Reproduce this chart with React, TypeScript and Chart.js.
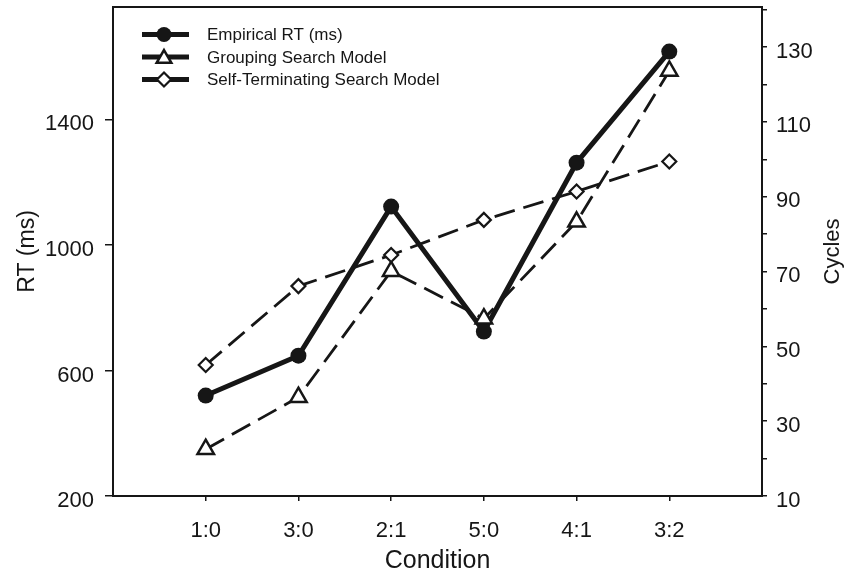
import React, { useEffect, useRef } from "react";
import { Chart, registerables } from "chart.js";

Chart.register(...registerables);

const categories = ["1:0", "3:0", "2:1", "5:0", "4:1", "3:2"];
const empiricalRT = [520, 647, 1122, 724, 1262, 1616];
const groupingCycles = [22.5, 36.4, 70.1, 57.4, 83.3, 123.6];
const selfTermCycles = [45, 66.1, 74.4, 83.8, 91.4, 99.4];
const rtTicks = [200, 600, 1000, 1400];
const cycleTicks = [10, 20, 30, 40, 50, 60, 70, 80, 90, 100, 110, 120, 130, 140];
const cycleLabels = [10, 30, 50, 70, 90, 110, 130];
const legendLabels = ["Empirical RT (ms)", "Grouping Search Model", "Self-Terminating Search Model"];

const FONT = "'Liberation Sans', Arial, Helvetica, sans-serif";
const INK = "#161616";

const toPoints = (vals: number[]) => vals.map((v, i) => ({ x: i, y: v }));

const framePlugin = {
  id: "frame",
  beforeDatasetsDraw(chart: any) {
    const { ctx, chartArea: a } = chart;
    ctx.save();
    ctx.strokeStyle = INK;
    ctx.lineWidth = 2;
    ctx.strokeRect(a.left, a.top, a.right - a.left, a.bottom - a.top);
    ctx.restore();
  },
};

function drawMarker(ctx: CanvasRenderingContext2D, kind: number, x: number, y: number) {
  ctx.save();
  ctx.strokeStyle = INK;
  ctx.fillStyle = kind === 0 ? INK : "#ffffff";
  ctx.beginPath();
  if (kind === 0) {
    ctx.arc(x, y, 7.5, 0, Math.PI * 2);
    ctx.fill();
  } else if (kind === 1) {
    const r = 8.5;
    for (let k = 0; k < 3; k++) {
      const ang = (k * 2 * Math.PI) / 3;
      const px = x + Math.sin(ang) * r;
      const py = y - Math.cos(ang) * r;
      if (k === 0) ctx.moveTo(px, py);
      else ctx.lineTo(px, py);
    }
    ctx.closePath();
    ctx.fill();
    ctx.lineWidth = 2.5;
    ctx.stroke();
  } else {
    const r = 7;
    ctx.moveTo(x, y - r);
    ctx.lineTo(x + r, y);
    ctx.lineTo(x, y + r);
    ctx.lineTo(x - r, y);
    ctx.closePath();
    ctx.fill();
    ctx.lineWidth = 2.2;
    ctx.stroke();
  }
  ctx.restore();
}

const legendPlugin = {
  id: "customLegend",
  afterDraw(chart: any) {
    const { ctx } = chart;
    const rows = [34.5, 57, 79.5];
    ctx.save();
    legendLabels.forEach((label, i) => {
      const y = rows[i];
      ctx.strokeStyle = INK;
      ctx.lineWidth = 5;
      ctx.lineCap = "butt";
      ctx.beginPath();
      ctx.moveTo(142, y);
      ctx.lineTo(189, y);
      ctx.stroke();
      drawMarker(ctx, i, 164, i === 1 ? y + 1.5 : y);
      ctx.fillStyle = INK;
      ctx.font = `17px ${FONT}`;
      ctx.textAlign = "left";
      ctx.textBaseline = "middle";
      ctx.fillText(label, 207, y + 1);
    });
    ctx.restore();
  },
};

const rightTitlePlugin = {
  id: "rightTitle",
  afterDraw(chart: any) {
    const { ctx, chartArea: a } = chart;
    ctx.save();
    ctx.translate(833, (a.top + a.bottom) / 2);
    ctx.rotate(-Math.PI / 2);
    ctx.fillStyle = INK;
    ctx.font = `22px ${FONT}`;
    ctx.textAlign = "center";
    ctx.textBaseline = "middle";
    ctx.fillText("Cycles", 0, 0);
    ctx.restore();
  },
};

export default function App() {
  const ref = useRef<HTMLCanvasElement | null>(null);

  useEffect(() => {
    if (!ref.current) return;
    const tickFont = { family: FONT, size: 22 };
    const chart = new Chart(ref.current, {
      type: "line",
      data: {
        datasets: [
          {
            label: legendLabels[0],
            data: toPoints(empiricalRT),
            yAxisID: "y",
            borderColor: INK,
            borderWidth: 5,
            borderJoinStyle: "round",
            pointStyle: "circle",
            pointRadius: 8,
            pointBackgroundColor: INK,
            pointBorderColor: INK,
            pointBorderWidth: 0,
            tension: 0,
            order: 3,
            clip: false,
          },
          {
            label: legendLabels[1],
            data: toPoints(groupingCycles),
            yAxisID: "y1",
            borderColor: INK,
            borderWidth: 2.8,
            borderDash: [21, 9],
            pointStyle: "triangle",
            pointRadius: 9.5,
            pointBackgroundColor: "#ffffff",
            pointBorderColor: INK,
            pointBorderWidth: 2.5,
            tension: 0,
            order: 2,
            clip: false,
          },
          {
            label: legendLabels[2],
            data: toPoints(selfTermCycles),
            yAxisID: "y1",
            borderColor: INK,
            borderWidth: 2.8,
            borderDash: [21, 9],
            pointStyle: "rectRot",
            pointRadius: 7,
            pointBackgroundColor: "#ffffff",
            pointBorderColor: INK,
            pointBorderWidth: 2.2,
            tension: 0,
            order: 1,
            clip: false,
          },
        ],
      },
      options: {
        responsive: false,
        animation: false,
        devicePixelRatio: 1,
        layout: { autoPadding: false, padding: { top: 7, left: 0, right: 0, bottom: 0 } },
        plugins: {
          legend: { display: false },
          tooltip: { enabled: false },
        },
        scales: {
          x: {
            type: "linear",
            position: "bottom",
            min: -1,
            max: 6,
            afterBuildTicks: (ax: any) => {
              ax.ticks = categories.map((_, i) => ({ value: i }));
            },
            ticks: {
              callback: (v: any) => categories[v] ?? "",
              font: tickFont,
              color: INK,
              padding: 17,
              maxRotation: 0,
              autoSkip: false,
            },
            grid: { drawOnChartArea: false, drawTicks: true, tickLength: 5, color: INK, lineWidth: 1.5 },
            border: { display: false },
            title: {
              display: true,
              text: "Condition",
              font: { family: FONT, size: 25 },
              color: INK,
              padding: { top: 0, bottom: -4 },
            },
            afterFit: (ax: any) => {
              ax.height = 76;
              ax.paddingLeft = 0;
              ax.paddingRight = 0;
              ax.paddingTop = 0;
              ax.paddingBottom = 0;
            },
          },
          y: {
            type: "linear",
            position: "left",
            min: 200,
            max: 1758,
            afterBuildTicks: (ax: any) => {
              ax.ticks = rtTicks.map((v) => ({ value: v }));
            },
            ticks: { font: tickFont, color: INK, padding: 11, labelOffset: 5, callback: (v: any) => String(v) },
            grid: { drawOnChartArea: false, drawTicks: true, tickLength: 8, color: INK, lineWidth: 1.5 },
            border: { display: false },
            title: {
              display: true,
              text: "RT (ms)",
              font: { family: FONT, size: 23 },
              color: INK,
              padding: { top: 14, bottom: 0 },
            },
            afterFit: (ax: any) => {
              ax.width = 113;
              ax.paddingTop = 0;
              ax.paddingBottom = 0;
            },
          },
          y1: {
            type: "linear",
            position: "right",
            min: 10,
            max: 140.7,
            afterBuildTicks: (ax: any) => {
              ax.ticks = cycleTicks.map((v) => ({ value: v }));
            },
            ticks: {
              font: tickFont,
              color: INK,
              padding: 9,
              labelOffset: 4.5,
              callback: (v: any) => (cycleLabels.includes(v) ? String(v) : ""),
            },
            grid: { drawOnChartArea: false, drawTicks: true, tickLength: 5, color: INK, lineWidth: 1.5 },
            border: { display: false },
            afterFit: (ax: any) => {
              ax.width = 85;
              ax.paddingTop = 0;
              ax.paddingBottom = 0;
            },
          },
        },
      },
      plugins: [framePlugin, legendPlugin, rightTitlePlugin],
    } as any);
    return () => chart.destroy();
  }, []);

  return (
    <div style={{ position: "fixed", left: 0, top: 0, width: 847, height: 572, background: "#ffffff" }}>
      <canvas ref={ref} width={847} height={572} style={{ display: "block", width: 847, height: 572 }} />
    </div>
  );
}
